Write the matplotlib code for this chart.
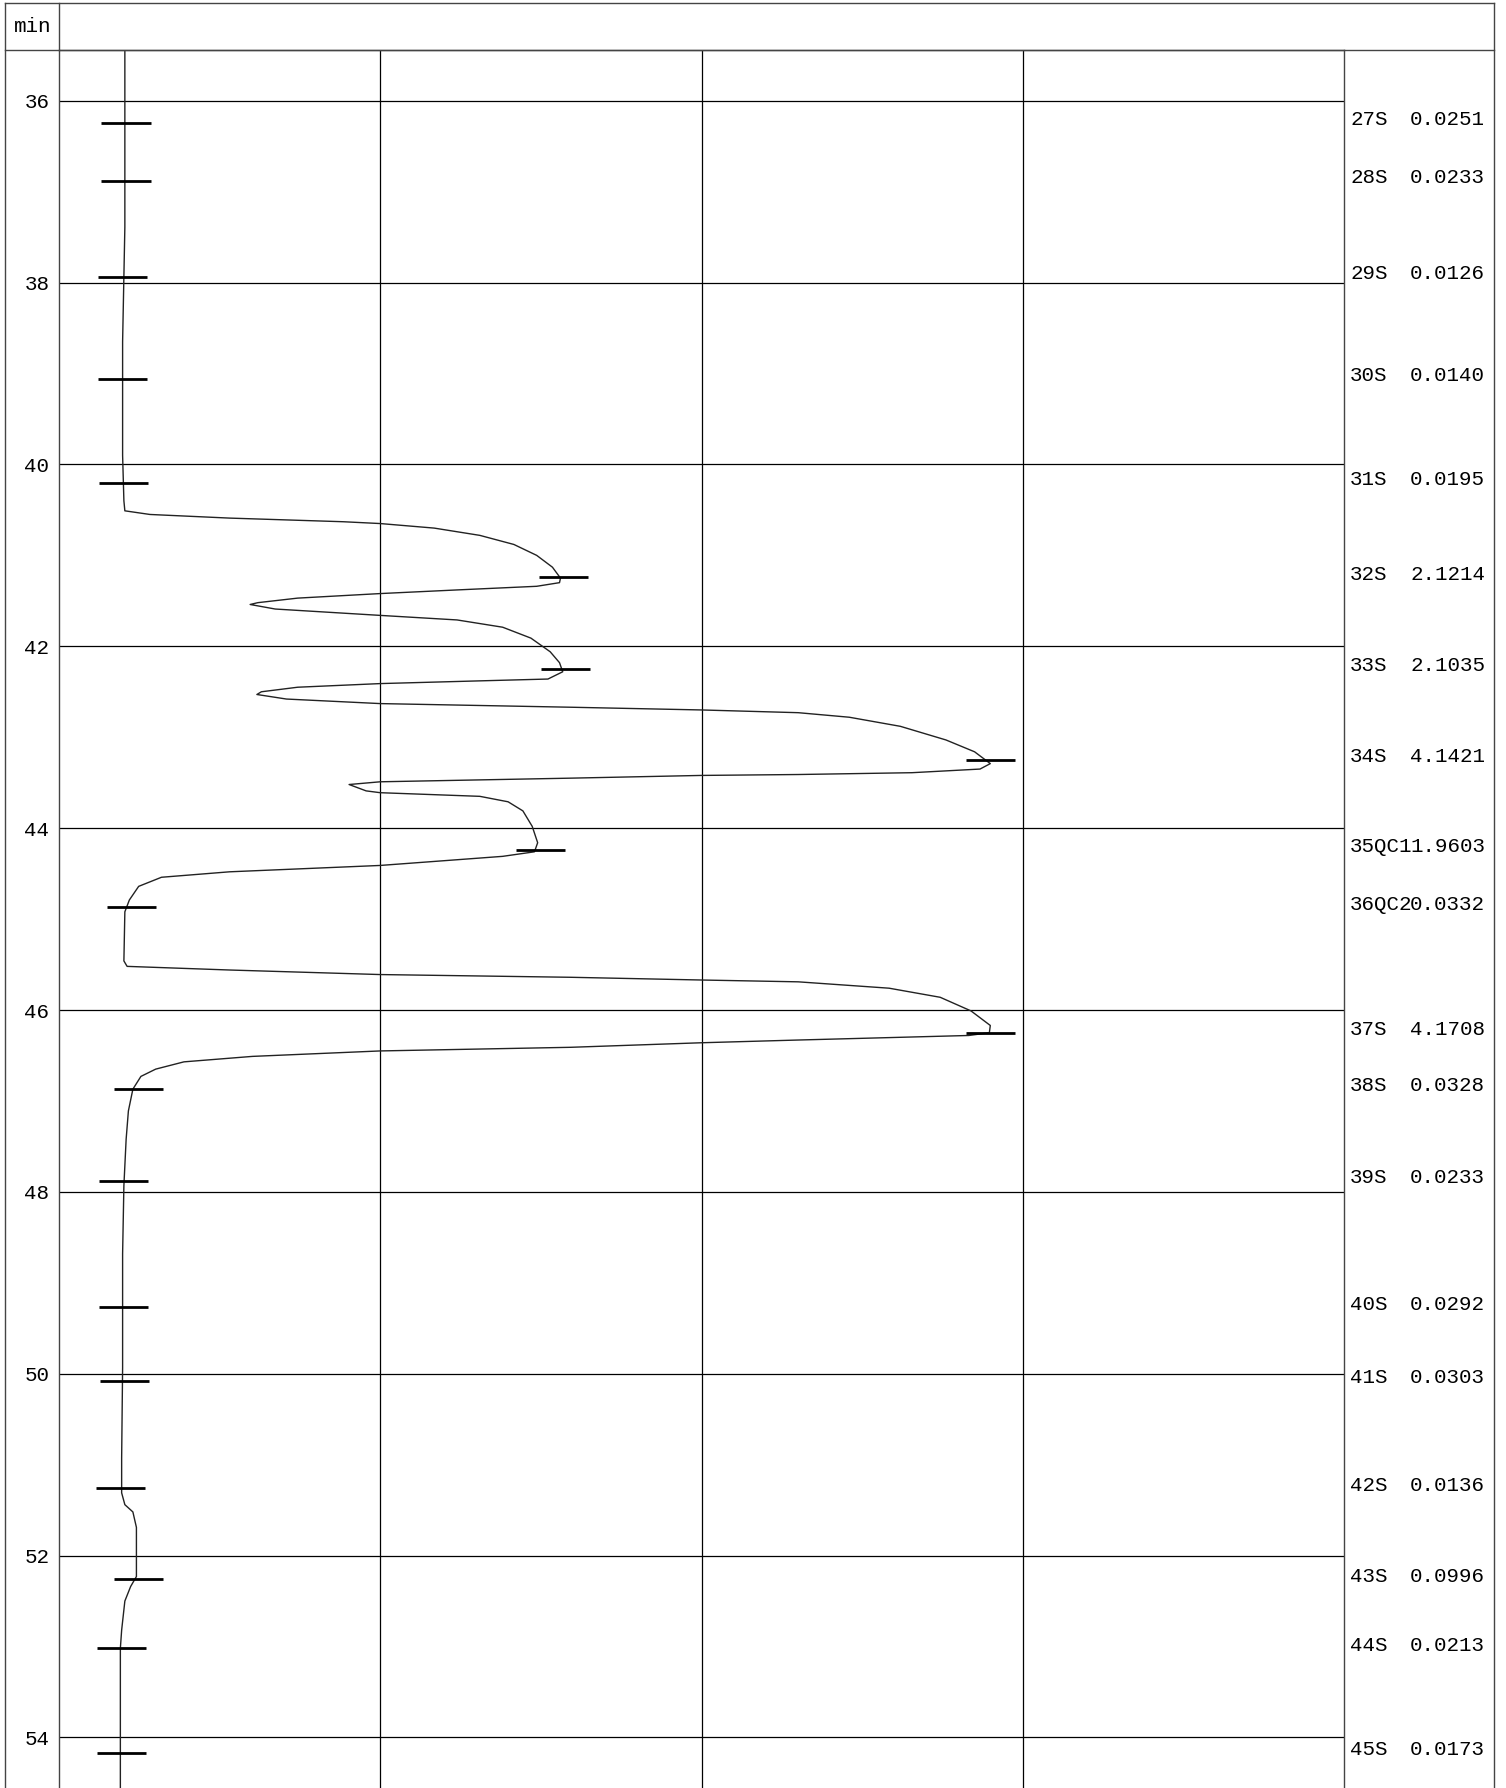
import matplotlib.pyplot as plt
from matplotlib.lines import Line2D

W, H = 1506, 1788

# sample marks: name, printed value, retention time (min), signal level at mark
sample_names = ['27S', '28S', '29S', '30S', '31S', '32S', '33S', '34S', '35QC1',
                '36QC2', '37S', '38S', '39S', '40S', '41S', '42S', '43S', '44S', '45S']
sample_values = ['0.0251', '0.0233', '0.0126', '0.0140', '0.0195', '2.1214', '2.1035',
                 '4.1421', '1.9603', '0.0332', '4.1708', '0.0328', '0.0233', '0.0292',
                 '0.0303', '0.0136', '0.0996', '0.0213', '0.0173']
sample_times = [36.24, 36.88, 37.94, 39.06, 40.20, 41.24, 42.25, 43.25, 44.24, 44.87,
                46.25, 46.87, 47.88, 49.27, 50.08, 51.26, 52.26, 53.02, 54.17]
sample_levels = [0.209, 0.209, 0.198, 0.198, 0.200, 1.570, 1.577, 2.899, 1.499, 0.225,
                 2.899, 0.248, 0.200, 0.200, 0.204, 0.191, 0.248, 0.195, 0.195]

# detector trace (time in min, signal in grid divisions)
trace_time = [35.42, 37.39, 38.65, 39.90, 40.40, 40.51, 40.55, 40.59, 40.63, 40.65,
              40.70, 40.78, 40.88, 41.00, 41.13, 41.25, 41.30, 41.34, 41.38, 41.42,
              41.47, 41.52, 41.54, 41.59, 41.66, 41.71, 41.79, 41.91, 42.06, 42.18,
              42.28, 42.36, 42.38, 42.41, 42.45, 42.50, 42.53, 42.58, 42.63, 42.67,
              42.70, 42.73, 42.78, 42.88, 43.03, 43.16, 43.29, 43.35, 43.39, 43.41,
              43.42, 43.45, 43.49, 43.52, 43.59, 43.61, 43.65, 43.71, 43.81, 43.98,
              44.16, 44.26, 44.31, 44.41, 44.48, 44.54, 44.64, 44.79, 44.92, 45.46,
              45.52, 45.56, 45.61, 45.64, 45.67, 45.69, 45.76, 45.86, 46.01, 46.17,
              46.25, 46.28, 46.33, 46.36, 46.41, 46.45, 46.51, 46.57, 46.65, 46.73,
              46.87, 47.11, 47.42, 47.93, 48.68, 49.93, 50.93, 51.31, 51.44, 51.52,
              51.69, 52.00, 52.23, 52.34, 52.50, 52.82, 53.02, 54.56]
trace_signal = [0.205, 0.205, 0.198, 0.198, 0.202, 0.205, 0.283, 0.531, 0.885, 1.000,
                1.168, 1.310, 1.416, 1.487, 1.536, 1.561, 1.558, 1.487, 1.239, 1.000,
                0.743, 0.619, 0.595, 0.673, 1.000, 1.239, 1.381, 1.469, 1.529, 1.558,
                1.568, 1.522, 1.310, 1.000, 0.743, 0.630, 0.616, 0.708, 1.000, 1.593,
                2.000, 2.301, 2.460, 2.619, 2.761, 2.850, 2.899, 2.867, 2.655, 2.301,
                2.000, 1.593, 1.000, 0.903, 0.956, 1.000, 1.310, 1.398, 1.444, 1.473,
                1.490, 1.480, 1.381, 1.000, 0.531, 0.319, 0.248, 0.219, 0.205, 0.202,
                0.212, 0.531, 1.000, 1.593, 2.000, 2.301, 2.584, 2.743, 2.839, 2.899,
                2.896, 2.832, 2.301, 2.000, 1.593, 1.000, 0.602, 0.389, 0.301, 0.255,
                0.230, 0.216, 0.209, 0.202, 0.198, 0.198, 0.195, 0.195, 0.205, 0.230,
                0.241, 0.241, 0.241, 0.223, 0.205, 0.195, 0.191, 0.191]

grid_times = list(range(36, 55, 2))
font = 'Liberation Mono'
fs = 15

fig = plt.figure(figsize=(W / 100, H / 100), dpi=100)
ax_left, ax_right, ax_top = 59, 1344, 50
ax = fig.add_axes([ax_left / W, 0, (ax_right - ax_left) / W, (H - ax_top) / H])

ax.plot(trace_signal, trace_time, color='#222222', lw=1.0)
ax.hlines(sample_times, [v - 0.077 for v in sample_levels],
          [v + 0.077 for v in sample_levels], color='black', lw=2.0)

ax.set_xlim(0, 4)
ax.set_ylim(54.556, 35.442)
ax.set_xticks([1, 2, 3])
ax.set_xticklabels([])
ax.set_yticks(grid_times)
ax.set_yticklabels([str(t) for t in grid_times], fontfamily=font, fontsize=fs)
ax.tick_params(length=0, pad=7)
ax.grid(color='black', lw=0.9)
ax.set_axisbelow(True)
for s in ax.spines.values():
    s.set_color('#444444')
    s.set_linewidth(1.0)
ax.spines['bottom'].set_visible(False)

# labels in the right-hand column
tr = ax.get_yaxis_transform()
name_x = (1350 - ax_left) / (ax_right - ax_left)
val_x = (1410 - ax_left) / (ax_right - ax_left)
for name, val, t in zip(sample_names, sample_values, sample_times):
    ax.text(name_x, t - 0.035, name, transform=tr, fontfamily=font, fontsize=fs,
            va='center', ha='left', clip_on=False)
    ax.text(val_x, t - 0.035, val, transform=tr, fontfamily=font, fontsize=fs,
            va='center', ha='left', clip_on=False)

# outer frame and header row
def fline(x0, y0, x1, y1):
    fig.add_artist(Line2D([x0 / W, x1 / W], [1 - y0 / H, 1 - y1 / H],
                          color='#444444', lw=1.0))

fline(5, 3, 1494, 3)
fline(5, 3, 5, H)
fline(1494, 3, 1494, H)
fline(5, ax_top, 1494, ax_top)
fline(ax_left, 3, ax_left, ax_top)
fig.text(14 / W, 1 - 26 / H, 'min', fontfamily=font, fontsize=fs, va='center', ha='left')

fig.savefig('out.png', dpi=100)
